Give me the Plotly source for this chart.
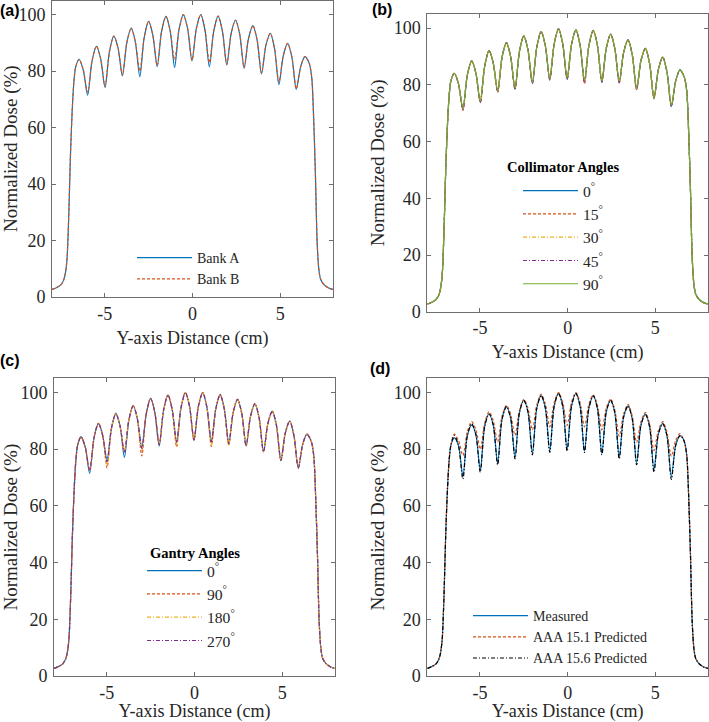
import plotly.graph_objects as go

W, H = 709, 722

# ---- sample positions along the Y-axis (cm), shared by every profile ----
EDGE_L_X = [-8.0, -7.75, -7.5, -7.35, -7.25, -7.15, -7.05, -6.95, -6.85, -6.75, -6.65]
CORE_X = [
    -6.46, -6.22, -5.97, -5.72, -5.47, -5.23, -4.98, -4.73, -4.48, -4.24, -3.99, -3.74,
    -3.49, -3.25, -3.00, -2.75, -2.50, -2.26, -2.01, -1.76, -1.51, -1.27, -1.02, -0.77,
    -0.52, -0.28, -0.03, 0.22, 0.47, 0.71, 0.96, 1.21, 1.46, 1.70, 1.95, 2.20,
    2.45, 2.69, 2.94, 3.19, 3.44, 3.68, 3.93, 4.18, 4.43, 4.67, 4.92, 5.17,
    5.42, 5.66, 5.91, 6.16, 6.40,
]
EDGE_R_X = [6.6, 6.7, 6.8, 6.9, 7.0, 7.1, 7.2, 7.3, 7.5, 7.75, 8.0]

# penumbra / tail doses (%)
EDGE_L_Y = [2.7, 3.3, 4.3, 5.8, 8.0, 13.0, 28.0, 50.0, 66.0, 76.5, 81.5]
EDGE_R_Y = [83.5, 81.5, 77.0, 63.0, 43.0, 19.0, 9.5, 6.2, 4.3, 3.2, 2.7]

# ---- (a) MLC banks ----
PEAKS_A = [84.2, 88.8, 92.4, 95.2, 97.6, 99.4, 100.0, 100.0, 99.5, 98.1, 96.1, 93.4, 89.8, 85.1]
SHOULD_A = [80.4, 83.6, 84.4, 86.9, 88.2, 90.1, 90.2, 91.9, 92.8, 94.1, 94.2, 94.6, 95.1,
            95.1, 94.6, 94.2, 94.3, 93.3, 93.0, 91.6, 91.0, 89.1, 88.0, 85.5, 84.9, 81.6]
VALLEY_BANK_A = [71.5, 74.2, 78.3, 78.0, 81.6, 81.3, 83.6, 81.5, 82.2, 81.0, 79.0, 75.2, 73.5]
VALLEY_BANK_B = [72.5, 74.6, 78.6, 80.0, 82.0, 84.0, 83.8, 83.0, 82.4, 81.2, 79.3, 76.2, 73.8]

# ---- (b) collimator angles ----
PEAKS_B = [84.1, 88.5, 92.1, 94.9, 97.3, 98.8, 99.8, 99.4, 99.2, 97.9, 95.9, 92.9, 89.8, 85.3]
SHOULD_B = [80.3, 83.4, 84.1, 86.6, 87.7, 89.7, 90.0, 91.7, 92.3, 93.3, 93.7, 94.4, 94.5,
            94.2, 93.9, 93.8, 93.8, 92.9, 92.8, 91.4, 90.7, 88.6, 87.6, 85.4, 84.6, 81.4]
VALLEY_COLL_0 = [71.4, 73.8, 77.6, 78.5, 80.6, 81.8, 82.0, 81.3, 80.8, 80.9, 78.5, 75.2, 72.4]
VALLEY_COLL_15 = [71.0, 73.9, 77.5, 78.6, 80.7, 81.9, 82.1, 80.4, 81.2, 80.8, 78.2, 75.6, 72.6]
VALLEY_COLL_30 = [71.6, 74.0, 77.8, 78.8, 80.9, 82.1, 82.2, 81.5, 81.4, 81.2, 78.7, 75.6, 72.7]
VALLEY_COLL_45 = [71.3, 73.7, 77.5, 78.4, 80.5, 81.7, 81.9, 81.0, 81.0, 80.7, 78.4, 75.3, 72.3]
VALLEY_COLL_90 = [71.8, 74.2, 77.9, 78.9, 81.0, 82.2, 82.4, 81.6, 81.3, 81.3, 78.9, 75.0, 72.8]

# ---- (c) gantry angles ----
PEAKS_C = [84.4, 89.1, 92.6, 95.4, 97.9, 99.1, 100.0, 100.0, 99.3, 97.6, 96.1, 93.4, 89.9, 85.3]
SHOULD_C = [80.7, 84.0, 84.9, 87.3, 88.2, 90.2, 90.6, 92.4, 93.0, 93.8, 94.0, 94.6, 95.0,
            95.0, 94.6, 94.1, 94.0, 92.9, 92.7, 91.6, 91.0, 89.1, 88.2, 85.7, 84.9, 81.7]
VALLEY_GAN_0 = [71.5, 76.1, 77.1, 80.6, 81.1, 82.8, 83.2, 82.9, 82.2, 81.1, 79.1, 75.9, 73.2]
VALLEY_GAN_90 = [72.6, 73.4, 79.1, 77.6, 81.8, 80.8, 83.3, 81.0, 81.6, 81.3, 79.0, 76.1, 73.6]
VALLEY_GAN_180 = [72.6, 74.3, 79.3, 79.5, 82.0, 81.4, 83.3, 81.4, 81.3, 81.3, 79.2, 76.2, 73.5]
VALLEY_GAN_270 = [72.5, 75.6, 79.0, 80.2, 81.6, 82.5, 83.2, 82.6, 82.0, 81.2, 79.1, 76.0, 73.3]

# ---- (d) measured vs AAA ----
PEAKS_MEAS = [84.0, 88.5, 92.4, 95.0, 97.3, 98.9, 99.6, 99.6, 98.8, 97.3, 95.3, 92.4, 89.0, 84.7]
PEAKS_151 = [85.3, 89.7, 93.2, 95.5, 97.6, 99.4, 100.0, 100.0, 99.2, 97.7, 95.8, 92.9, 89.7, 85.5]
PEAKS_156 = [84.8, 89.0, 92.5, 95.0, 97.2, 98.9, 99.7, 99.7, 98.8, 97.2, 95.2, 92.3, 89.0, 84.8]
SHOULD_D = [81.2, 84.7, 85.1, 88.0, 88.5, 90.6, 91.0, 92.8, 93.1, 94.4, 94.5, 95.1, 95.2,
            95.2, 95.1, 94.5, 94.3, 93.1, 92.8, 91.3, 90.8, 88.5, 88.0, 85.3, 84.8, 81.4]
SHOULD_151 = [83.0, 86.1, 86.8, 89.2, 90.0, 91.6, 92.3, 93.8, 94.4, 95.6, 95.9, 96.4, 96.5,
              96.5, 96.4, 95.8, 95.5, 94.4, 93.8, 92.4, 91.7, 89.7, 88.9, 86.6, 86.0, 83.1]
VALLEY_MEAS = [70.5, 72.6, 75.2, 77.2, 78.5, 79.4, 79.8, 79.4, 78.5, 77.2, 75.2, 72.6, 70.3]
VALLEY_151 = [77.8, 80.0, 82.5, 84.8, 86.8, 87.9, 88.4, 87.9, 86.8, 84.6, 82.3, 79.5, 77.5]
VALLEY_156 = [69.5, 71.9, 74.5, 76.6, 78.0, 78.9, 79.3, 78.9, 78.0, 76.6, 74.5, 71.9, 69.3]

X_TICKS = [-5, 0, 5]
X_TICK_TEXT = ["-5", "0", "5"]
Y_TICKS = [0, 20, 40, 60, 80, 100]

BLUE, ORANGE, YELLOW = "#0072BD", "#D95319", "#EDB120"
PURPLE, GREEN, BLACK = "#7E2F8E", "#77AC30", "#000000"
DASH, DASHDOT = "3px,2px", "4px,2px,1px,2px"

SERIF = "Liberation Serif, Times New Roman, serif"
AXIS_COLOR = "#6e6e6e"


def profile(peaks, shoulders, valleys):
    core = []
    for j, v in enumerate(valleys):
        core += [peaks[j], shoulders[2 * j], v, shoulders[2 * j + 1]]
    core.append(peaks[-1])
    return EDGE_L_Y + core + EDGE_R_Y


X = EDGE_L_X + CORE_X + EDGE_R_X
DEG = "<sup>°</sup>"

panels = [
    ("", "legend", [
        ("Bank A", PEAKS_A, SHOULD_A, VALLEY_BANK_A, BLUE, "solid"),
        ("Bank B", PEAKS_A, SHOULD_A, VALLEY_BANK_B, ORANGE, DASH),
    ]),
    ("2", "legend2", [
        ("0" + DEG, PEAKS_B, SHOULD_B, VALLEY_COLL_0, BLUE, "solid"),
        ("15" + DEG, PEAKS_B, SHOULD_B, VALLEY_COLL_15, ORANGE, DASH),
        ("30" + DEG, PEAKS_B, SHOULD_B, VALLEY_COLL_30, YELLOW, DASHDOT),
        ("45" + DEG, PEAKS_B, SHOULD_B, VALLEY_COLL_45, PURPLE, DASHDOT),
        ("90" + DEG, PEAKS_B, SHOULD_B, VALLEY_COLL_90, GREEN, "solid"),
    ]),
    ("3", "legend3", [
        ("0" + DEG, PEAKS_C, SHOULD_C, VALLEY_GAN_0, BLUE, "solid"),
        ("90" + DEG, PEAKS_C, SHOULD_C, VALLEY_GAN_90, ORANGE, DASH),
        ("180" + DEG, PEAKS_C, SHOULD_C, VALLEY_GAN_180, YELLOW, DASHDOT),
        ("270" + DEG, PEAKS_C, SHOULD_C, VALLEY_GAN_270, PURPLE, DASHDOT),
    ]),
    ("4", "legend4", [
        ("Measured", PEAKS_MEAS, SHOULD_D, VALLEY_MEAS, BLUE, "solid"),
        ("AAA 15.1 Predicted", PEAKS_151, SHOULD_151, VALLEY_151, ORANGE, DASH),
        ("AAA 15.6 Predicted", PEAKS_156, SHOULD_D, VALLEY_156, BLACK, DASHDOT),
    ]),
]

fig = go.Figure()
for ax, leg, series in panels:
    for name, pk, sh, vl, color, dash in series:
        fig.add_trace(go.Scatter(
            x=X, y=profile(pk, sh, vl), name=name, mode="lines",
            line=dict(color=color, width=1.2, dash=dash, shape="spline", smoothing=0.8),
            xaxis="x" + ax, yaxis="y" + ax, legend=leg,
        ))

axis_common = dict(
    showline=True, mirror="ticks", linecolor=AXIS_COLOR, linewidth=1,
    ticks="inside", ticklen=4, tickcolor=AXIS_COLOR, showgrid=False, zeroline=False,
    automargin=False,
    tickfont=dict(family=SERIF, size=18, color="#262626"),
)


def xaxis(domain, anchor):
    return dict(axis_common, domain=domain, anchor=anchor, range=[-8, 8],
                tickvals=X_TICKS, ticktext=X_TICK_TEXT,
                title=dict(text="Y-axis Distance (cm)", standoff=8,
                           font=dict(family=SERIF, size=18, color="#262626")))


def yaxis(domain, anchor):
    return dict(axis_common, domain=domain, anchor=anchor, range=[0, 105],
                tickvals=Y_TICKS, ticklabelstandoff=2,
                title=dict(text="Normalized Dose (%)", standoff=4,
                           font=dict(family=SERIF, size=19, color="#262626")))


def px_x(p):
    return p / W


def px_y(p):
    return 1 - p / H


dom = {
    "a": ([px_x(52), px_x(333)], [px_y(297), px_y(0.5)]),
    "b": ([px_x(427.3), px_x(708)], [px_y(311.7), px_y(14)]),
    "c": ([px_x(54), px_x(335)], [px_y(676), px_y(378.3)]),
    "d": ([px_x(427.3), px_x(708)], [px_y(676), px_y(378.3)]),
}


def legend_at(x, y, size):
    return dict(
        bgcolor="rgba(0,0,0,0)", borderwidth=0, xanchor="left", yanchor="top",
        x=px_x(x), y=px_y(y), itemwidth=55, tracegroupgap=0,
        font=dict(family=SERIF, size=size, color="#262626"),
    )


fig.update_layout(
    width=W, height=H, margin=dict(l=0, r=0, t=0, b=0, autoexpand=False),
    paper_bgcolor="white", plot_bgcolor="white",
    xaxis=xaxis(dom["a"][0], "y"), yaxis=yaxis(dom["a"][1], "x"),
    xaxis2=xaxis(dom["b"][0], "y2"), yaxis2=yaxis(dom["b"][1], "x2"),
    xaxis3=xaxis(dom["c"][0], "y3"), yaxis3=yaxis(dom["c"][1], "x3"),
    xaxis4=xaxis(dom["d"][0], "y4"), yaxis4=yaxis(dom["d"][1], "x4"),
    legend=legend_at(132, 242, 14),
    legend2=legend_at(518, 174, 15.6),
    legend3=legend_at(142, 554, 15.6),
    legend4=legend_at(468, 600, 14),
    showlegend=True,
)

labels = [("(a)", 10, 11), ("(b)", 382, 10), ("(c)", 10, 360), ("(d)", 380, 368)]
for text, lx, ly in labels:
    fig.add_annotation(text=f"<b>{text}</b>", x=px_x(lx), y=px_y(ly), xref="paper", yref="paper",
                       showarrow=False, xanchor="center", yanchor="middle",
                       font=dict(family="Liberation Sans, Arial, sans-serif", size=16, color="#000"))

legend_titles = [("Collimator Angles", 563, 167), ("Gantry Angles", 195, 553)]
for text, lx, ly in legend_titles:
    fig.add_annotation(text=f"<b>{text}</b>", x=px_x(lx), y=px_y(ly), xref="paper", yref="paper",
                       showarrow=False, xanchor="center", yanchor="middle",
                       font=dict(family=SERIF, size=14.5, color="#000"))

# the page's default body margin would push the 709x722 figure off-screen
fig.write_html("out.html", config={"displayModeBar": False},
               post_script="document.body.style.margin = '0';")
